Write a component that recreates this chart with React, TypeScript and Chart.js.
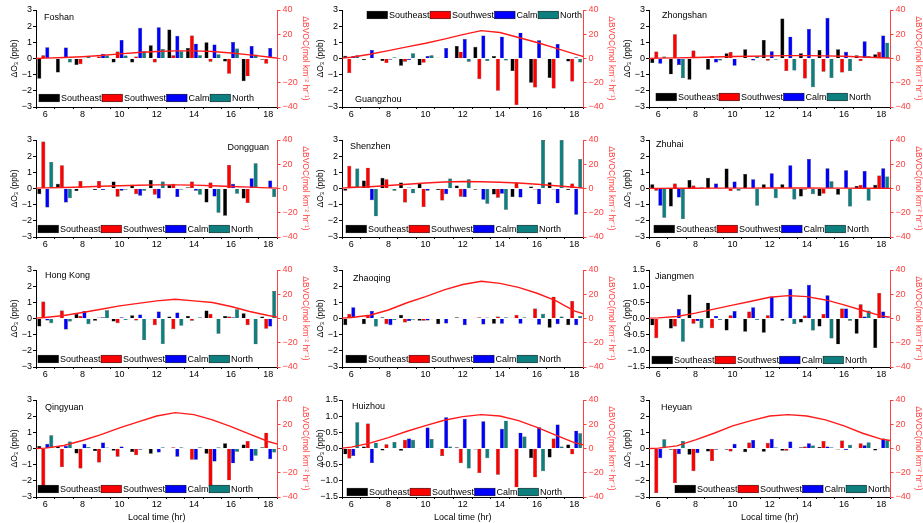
import React, { useEffect, useRef } from "react";
import { Chart, registerables } from "chart.js";

Chart.register(...registerables);

// ---------- shared axis values ----------
const hours = [6, 7, 8, 9, 10, 11, 12, 13, 14, 15, 16, 17, 18];
const bvocHours = [5.5, 6, 7, 8, 9, 10, 11, 12, 13, 14, 15, 16, 17, 18, 18.5];
const seriesNames = ["Southeast", "Southwest", "Calm", "North"];
const xTickLabels = ["6", "8", "10", "12", "14", "16", "18"];

// ---------- Foshan ----------
const foshanSE = [-1.25, -0.86, -0.4, 0.03, -0.25, -0.25, 0.82, 1.8, 0.65, 1.0, -0.18, -1.4, -0.08];
const foshanSW = [0.2, 0.0, -0.35, 0.12, 0.43, 0.12, -0.25, 0.2, 1.42, -0.2, -0.95, -1.1, -0.33];
const foshanCalm = [0.7, 0.68, 0.02, 0.28, 1.15, 1.9, 1.93, 1.4, 0.92, 0.87, 1.02, 0.78, 0.65];
const foshanNorth = [0.04, -0.25, 0.15, 0.18, 0.18, 0.45, 0.58, 0.45, 0.2, 0.27, 0.62, 0.25, 0.02];
const foshanBVOC = [0, 0.3, 0.8, 1.5, 2.5, 3.8, 5, 5.8, 6.3, 6.3, 5.8, 4.5, 3, 1.2, 0.3];

// ---------- Guangzhou ----------
const guangzhouSE = [0.17, -0.1, -0.15, -0.45, -0.42, 0.05, 0.78, 0.72, 0.15, -0.78, -1.5, -1.2, -0.18];
const guangzhouSW = [-0.9, -0.03, -0.28, -0.2, -0.27, -0.03, 0.42, -1.28, -2.0, -2.88, -1.8, -1.85, -1.42];
const guangzhouCalm = [0.15, 0.53, -0.08, -0.1, 0.15, 0.65, 1.2, 1.42, 1.35, 1.6, 1.13, 0.9, 0.08];
const guangzhouNorth = [0.2, 0.05, 0.08, 0.33, 0.2, -0.03, -0.2, -0.15, -0.13, -0.02, 0.02, 0.0, -0.25];
const guangzhouBVOC = [0.3, 1, 3.5, 6.5, 9.6, 12.6, 16, 19.7, 23, 21.4, 17.3, 13.2, 8.5, 3.8, 1.6];

// ---------- Zhongshan ----------
const zhongshanSE = [-0.28, -0.98, -1.31, -0.7, 0.33, 0.57, 1.15, 2.48, 0.33, 0.53, 0.57, 0.2, 0.27];
const zhongshanSW = [0.43, 1.5, 0.49, 0.16, 0.4, -0.04, -0.14, -0.78, -1.23, -0.82, -0.86, -0.16, 0.41];
const zhongshanCalm = [-0.33, -0.4, 0.04, -0.25, -0.45, -0.12, 0.45, 1.35, 1.83, 2.52, 0.41, 1.07, 1.42];
const zhongshanNorth = [0.12, -1.2, 0.03, -0.12, 0.02, 0.16, -0.08, -0.74, -1.77, -1.21, -0.78, 0.16, 0.98];
const zhongshanBVOC = [0, 0.3, 0.5, 0.8, 1.2, 1.6, 1.9, 2.2, 2.4, 2.4, 2.2, 1.8, 1.2, 0.6, 0.3];

// ---------- Dongguan ----------
const dongguanSE = [-0.35, 0.29, -0.16, -0.1, 0.43, 0.23, 0.53, 0.23, 0.08, -0.86, -1.68, -0.62, 0.02];
const dongguanSW = [2.9, 1.44, 0.47, 0.47, -0.51, -0.35, -0.39, 0.29, 0.43, 0.37, 1.46, -0.9, 0.03];
const dongguanCalm = [-1.17, -0.86, -0.03, -0.1, -0.14, -0.45, -0.62, -0.53, -0.14, -0.49, 0.29, 0.64, 0.49];
const dongguanNorth = [1.64, -0.6, -0.03, -0.03, -0.08, -0.14, 0.43, -0.08, -0.39, -1.5, -0.33, 1.56, -0.53];
const dongguanBVOC = [0.3, 0.5, 0.8, 1.2, 1.8, 2.3, 2.7, 3, 3, 2.8, 2.3, 1.7, 1.1, 0.5, 0.3];

// ---------- Shenzhen ----------
const shenzhenSE = [-0.14, 0.49, 0.66, 0.37, 0.33, -0.1, 0.18, -0.08, -0.37, -0.53, 0.12, 0.39, -0.1];
const shenzhenSW = [1.4, 1.29, 0.57, -0.86, -1.15, -0.74, -0.51, -0.04, -0.57, 0.37, -0.06, -0.06, 0.31];
const shenzhenCalm = [0.12, -0.72, 0.02, 0.06, -0.14, -0.35, -0.53, -0.7, -0.33, -0.55, -0.98, -0.92, -1.62];
const shenzhenNorth = [1.23, -1.72, -0.14, -0.3, 0.04, 0.62, 0.57, -0.94, -1.31, 0.0, 3.0, 3.0, 1.83];
const shenzhenBVOC = [0.3, 0.8, 1.5, 2.5, 3.5, 4.5, 5.3, 5.8, 5.6, 5.2, 4.5, 3.5, 2.3, 1.0, 0.3];

// ---------- Zhuhai ----------
const zhuhaiSE = [0.27, -1.11, 0.53, 0.66, 1.23, 0.9, 0.27, 0.27, -0.49, -0.47, -0.39, 0.16, 0.23];
const zhuhaiSW = [-0.14, 0.31, 0.18, 0.0, -0.16, -0.02, 0.0, 0.02, -0.08, -0.33, 0.0, 0.23, 0.8];
const zhuhaiCalm = [-1.07, -0.55, 0.04, 0.31, 0.43, 0.57, 0.94, 1.44, 1.83, 1.25, 1.13, 1.09, 1.25];
const zhuhaiNorth = [-1.81, -1.89, 0.08, -0.04, -0.14, -1.07, -0.6, -0.68, -0.35, 0.45, -1.11, -0.76, 0.74];
const zhuhaiBVOC = [0.1, 0.1, 0.2, 0.2, 0.3, 0.3, 0.3, 0.4, 0.4, 0.4, 0.3, 0.3, 0.2, 0.2, 0.1];

// ---------- Hong Kong ----------
const hongkongSE = [-0.49, -0.03, 0.29, -0.14, -0.18, 0.2, -0.04, 0.12, 0.16, 0.49, 0.16, 0.33, 0.12];
const hongkongSW = [1.05, 0.49, 0.16, 0.06, -0.29, -0.12, -0.41, -0.66, -0.14, 0.29, 0.12, -0.41, -0.64];
const hongkongCalm = [-0.12, -0.68, 0.47, 0.08, 0.08, 0.25, 0.43, 0.37, 0.03, 0.04, 0.08, 0.0, -0.49];
const hongkongNorth = [-0.29, -0.18, -0.35, 0.51, -0.1, -1.33, -1.58, -0.45, 0.08, -0.94, 0.57, -1.6, 1.7];
const hongkongBVOC = [0.3, 0.8, 2.5, 4.9, 7.6, 10.4, 12.5, 14.5, 15.9, 14.5, 13.2, 9.9, 5.8, 2.5, 1.1];

// ---------- Zhaoqing ----------
const zhaoqingSE = [-0.41, -0.35, 0.08, 0.23, -0.14, -0.35, 0.08, 0.04, -0.33, 0.04, -0.04, -0.57, -0.41];
const zhaoqingSW = [0.29, 0.2, -0.35, -0.25, -0.14, 0.0, 0.04, 0.08, 0.12, 0.23, 0.62, 1.35, 1.09];
const zhaoqingCalm = [0.7, 0.47, -0.41, -0.16, -0.12, -0.31, -0.41, -0.37, -0.33, -0.33, -0.39, -0.35, -0.41];
const zhaoqingNorth = [0.05, -0.49, -0.1, -0.08, -0.04, 0.0, 0.0, 0.06, 0.08, 0.08, 0.29, 0.12, 0.16];
const zhaoqingBVOC = [0.3, 0.8, 2.7, 7, 13, 18, 23.6, 28, 30.7, 29, 25.7, 20.8, 14.8, 6.3, 3.8];

// ---------- Jiangmen ----------
const jiangmenSE = [-0.21, -0.31, 0.74, 0.49, -0.37, -0.41, -0.44, -0.07, -0.12, -0.25, -0.8, -0.47, -0.91];
const jiangmenSW = [-0.61, -0.25, -0.16, -0.3, 0.1, 0.22, 0.1, 0.02, 0.09, 0.14, 0.31, 0.44, 0.79];
const jiangmenCalm = [-0.02, 0.29, -0.08, 0.08, 0.23, 0.35, 0.68, 0.91, 1.04, 0.72, 0.31, 0.06, 0.22];
const jiangmenNorth = [0.0, -0.72, -0.3, -0.05, 0.01, -0.05, 0.02, -0.17, -0.37, -0.62, -0.07, 0.25, 0.04];
const jiangmenBVOC = [0.3, 0.5, 1.6, 4.4, 7.7, 11, 14.2, 17.5, 18.9, 18, 15.3, 11.2, 6.6, 2.2, 1.1];

// ---------- Qingyuan ----------
const qingyuanSE = [0.16, 0.16, -0.31, -0.16, -0.14, -0.21, -0.33, 0.0, 0.03, -0.33, 0.33, 0.25, 0.08];
const qingyuanSW = [-2.3, -1.15, -1.23, -0.86, -0.51, -0.41, 0.0, 0.08, -0.7, -2.3, -1.97, 0.47, 0.98];
const qingyuanCalm = [0.29, 0.16, 0.29, 0.37, 0.12, -0.08, -0.25, -0.51, -0.7, -0.8, -0.92, -0.78, -0.66];
const qingyuanNorth = [0.82, 0.43, 0.1, 0.06, 0.03, 0.0, 0.08, 0.08, 0.08, 0.08, -0.2, -0.45, -0.25];
const qingyuanBVOC = [0, 0.3, 2.5, 6.6, 11.5, 17, 21.9, 26.8, 29.6, 27.9, 23.6, 18, 11.8, 5.8, 3.6];

// ---------- Huizhou ----------
const huizhouSE = [-0.18, 0.06, -0.06, -0.07, 0.01, 0.01, 0.04, -0.03, 0.0, 0.0, -0.29, -0.28, 0.12];
const huizhouSW = [-0.31, 0.77, 0.13, 0.27, 0.0, -0.23, -0.45, -0.76, -0.81, -1.2, -0.89, 0.31, -0.18];
const huizhouCalm = [-0.23, -0.45, 0.0, 0.31, 0.65, 0.97, 0.92, 0.84, 0.61, 0.49, 0.66, 0.74, 0.55];
const huizhouNorth = [0.81, 0.18, 0.2, 0.27, 0.29, 0.06, -0.62, -0.3, 0.86, 0.37, -0.7, 0.06, 0.47];
const huizhouBVOC = [0.3, 1.1, 4.4, 9, 14.2, 18.9, 23.3, 26.3, 27.9, 26.8, 23, 17.5, 11, 4.9, 3];

// ---------- Heyuan ----------
const heyuanSE = [-0.04, -0.08, -0.39, -0.18, -0.08, -0.23, -0.2, -0.14, 0.08, 0.1, -0.06, 0.02, -0.12];
const heyuanSW = [-2.75, -2.14, -1.4, -0.78, -0.18, 0.37, 0.35, -0.14, 0.12, 0.47, 0.49, 0.33, 0.02];
const heyuanCalm = [-0.6, -0.35, -0.29, -0.08, 0.29, 0.53, 0.6, 0.43, 0.33, 0.12, -0.1, 0.2, 0.62];
const heyuanNorth = [0.57, 0.47, 0.0, 0.0, 0.03, 0.02, 0.08, 0.02, 0.18, 0.08, 0.23, 0.39, 0.51];
const heyuanBVOC = [0, 0.3, 2.2, 7.1, 12.6, 18.6, 23, 26.8, 27.9, 26.8, 23.6, 18.6, 12.6, 7.7, 6.6];

// ---------- layout / style (kept apart from the data) ----------
const SERIES_COLORS = ["#000000", "#ff0000", "#0000ff", "#0e7f7f"];
const RED_AXIS = "#ff4040";
const LINE_RED = "#ff1a1a";
const FONT = '"Liberation Sans", Arial, Helvetica, sans-serif';
const COL_X = [0, 306, 613];
const ROW_Y = [0, 130, 260, 390];
const CANVAS_W = 310;

type Panel = {
  name: string;
  series: number[][];
  bvoc: number[];
  col: number;
  row: number;
  yMax: number;
  yStep: number;
  legend: [number, number];
  label: [number, number, "left" | "right"];
};

const panels: Panel[] = [
  { name: "Foshan", series: [foshanSE, foshanSW, foshanCalm, foshanNorth], bvoc: foshanBVOC, col: 0, row: 0, yMax: 3, yStep: 1, legend: [3, 88], label: [8, 8, "left"] },
  { name: "Guangzhou", series: [guangzhouSE, guangzhouSW, guangzhouCalm, guangzhouNorth], bvoc: guangzhouBVOC, col: 1, row: 0, yMax: 3, yStep: 1, legend: [25, 5], label: [13, 90, "left"] },
  { name: "Zhongshan", series: [zhongshanSE, zhongshanSW, zhongshanCalm, zhongshanNorth], bvoc: zhongshanBVOC, col: 2, row: 0, yMax: 3, yStep: 1, legend: [7, 87], label: [13, 6, "left"] },
  { name: "Dongguan", series: [dongguanSE, dongguanSW, dongguanCalm, dongguanNorth], bvoc: dongguanBVOC, col: 0, row: 1, yMax: 3, yStep: 1, legend: [2, 89], label: [233, 8, "right"] },
  { name: "Shenzhen", series: [shenzhenSE, shenzhenSW, shenzhenCalm, shenzhenNorth], bvoc: shenzhenBVOC, col: 1, row: 1, yMax: 3, yStep: 1, legend: [4, 89], label: [8, 7, "left"] },
  { name: "Zhuhai", series: [zhuhaiSE, zhuhaiSW, zhuhaiCalm, zhuhaiNorth], bvoc: zhuhaiBVOC, col: 2, row: 1, yMax: 3, yStep: 1, legend: [5, 89], label: [7, 5, "left"] },
  { name: "Hong Kong", series: [hongkongSE, hongkongSW, hongkongCalm, hongkongNorth], bvoc: hongkongBVOC, col: 0, row: 2, yMax: 3, yStep: 1, legend: [2, 89], label: [9, 6, "left"] },
  { name: "Zhaoqing", series: [zhaoqingSE, zhaoqingSW, zhaoqingCalm, zhaoqingNorth], bvoc: zhaoqingBVOC, col: 1, row: 2, yMax: 3, yStep: 1, legend: [4, 89], label: [11, 9, "left"] },
  { name: "Jiangmen", series: [jiangmenSE, jiangmenSW, jiangmenCalm, jiangmenNorth], bvoc: jiangmenBVOC, col: 2, row: 2, yMax: 1.5, yStep: 0.5, legend: [3, 90], label: [6, 7, "left"] },
  { name: "Qingyuan", series: [qingyuanSE, qingyuanSW, qingyuanCalm, qingyuanNorth], bvoc: qingyuanBVOC, col: 0, row: 3, yMax: 3, yStep: 1, legend: [2, 89], label: [9, 8, "left"] },
  { name: "Huizhou", series: [huizhouSE, huizhouSW, huizhouCalm, huizhouNorth], bvoc: huizhouBVOC, col: 1, row: 3, yMax: 1.5, yStep: 0.5, legend: [5, 92], label: [10, 7, "left"] },
  { name: "Heyuan", series: [heyuanSE, heyuanSW, heyuanCalm, heyuanNorth], bvoc: heyuanBVOC, col: 2, row: 3, yMax: 3, yStep: 1, legend: [26, 89], label: [12, 8, "left"] },
];

const minus = (s: string) => s.replace("-", "\u2212");

function PanelChart({ p }: { p: Panel }) {
  const ref = useRef<HTMLCanvasElement | null>(null);
  const bottomRow = p.row === 3;
  const height = bottomRow ? 133 : 130;

  useEffect(() => {
    if (!ref.current) return;
    const font = { family: FONT, size: 9 };
    const titleFont = { family: FONT, size: 8.5 };

    const decor = {
      id: "decor",
      afterDraw(chart: any) {
        const { ctx, chartArea } = chart;
        ctx.save();
        ctx.font = `9px ${FONT}`;
        ctx.textBaseline = "middle";
        ctx.fillStyle = "#000";
        // station label
        ctx.textAlign = p.label[2];
        ctx.fillText(p.name, chartArea.left + p.label[0], chartArea.top + p.label[1]);
        // legend
        ctx.textAlign = "left";
        let x = chartArea.left + p.legend[0];
        const cy = chartArea.top + p.legend[1];
        seriesNames.forEach((n, i) => {
          ctx.fillStyle = SERIES_COLORS[i];
          ctx.fillRect(x, cy - 3.8, 20.5, 7.6);
          ctx.lineWidth = 0.5;
          ctx.strokeStyle = "#000";
          ctx.strokeRect(x, cy - 3.8, 20.5, 7.6);
          ctx.fillStyle = "#000";
          ctx.fillText(n, x + 22, cy + 0.5);
          x += 22.5 + ctx.measureText(n).width;
        });
        ctx.restore();
      },
    };

    const datasets: any[] = [
      {
        type: "line",
        label: "BVOC",
        data: bvocHours.map((h, i) => ({ x: h, y: p.bvoc[i] })),
        borderColor: LINE_RED,
        borderWidth: 1.4,
        pointRadius: 0,
        tension: 0,
        yAxisID: "y2",
        xAxisID: "x",
      },
      ...seriesNames.map((n, i) => ({
        type: "bar",
        label: n,
        data: hours.map((h, j) => ({ x: h, y: p.series[i][j] })),
        backgroundColor: SERIES_COLORS[i],
        borderColor: "#111",
        borderWidth: 0.4,
        categoryPercentage: 0.86,
        barPercentage: 1,
        yAxisID: "y",
        xAxisID: "x",
      })),
    ];

    const chart = new Chart(ref.current, {
      type: "bar",
      data: { datasets },
      plugins: [decor],
      options: {
        animation: false,
        responsive: false,
        maintainAspectRatio: false,
        events: [],
        layout: { padding: { top: 10, left: 0, right: 0, bottom: 0 } },
        plugins: { legend: { display: false }, tooltip: { enabled: false } },
        scales: {
          x: {
            type: "linear",
            min: 5.5,
            max: 18.5,
            offset: false,
            afterBuildTicks: (s: any) => {
              s.ticks = hours.map((v) => ({ value: v }));
            },
            ticks: {
              autoSkip: false,
              maxRotation: 0,
              padding: 0,
              color: "#000",
              font,
              callback: (v: any) => (xTickLabels.includes(String(v)) ? String(v) : ""),
            },
            grid: { display: true, drawOnChartArea: false, drawTicks: true, tickLength: 2, color: "#000" },
            border: { display: true, color: "#000", width: 1 },
            title: {
              display: bottomRow,
              text: "Local time (hr)",
              color: "#000",
              font,
              padding: { top: 0, bottom: 0 },
            },
            afterFit: (s: any) => {
              s.height = bottomRow ? 26 : 23;
            },
          },
          y: {
            position: "left",
            min: -p.yMax,
            max: p.yMax,
            ticks: {
              stepSize: p.yStep,
              padding: 1,
              color: "#000",
              font,
              callback: (v: any) => minus(p.yStep < 1 ? Number(v).toFixed(1) : String(Math.round(Number(v)))),
            },
            grid: { display: true, drawOnChartArea: false, drawTicks: true, tickLength: 3, color: "#000" },
            border: { display: true, color: "#000", width: 1 },
            title: {
              display: true,
              text: "ΔO₃ (ppb)",
              color: "#000",
              font: titleFont,
              padding: { top: 9.5, bottom: 0 },
            },
            afterFit: (s: any) => {
              s.width = 36;
            },
          },
          y2: {
            position: "right",
            min: -40,
            max: 40,
            ticks: {
              stepSize: 10,
              padding: 2,
              color: RED_AXIS,
              font,
              callback: (v: any) => minus(String(Math.round(Number(v)))),
            },
            grid: { display: true, drawOnChartArea: false, drawTicks: true, tickLength: 3, color: RED_AXIS },
            border: { display: true, color: RED_AXIS, width: 1 },
            title: {
              display: true,
              text: "ΔBVOC(mol km⁻² hr⁻¹)",
              color: RED_AXIS,
              font: titleFont,
              padding: { top: 0, bottom: 0 },
            },
            afterFit: (s: any) => {
              s.width = 32.5;
            },
          },
        },
      } as any,
    });
    return () => chart.destroy();
  }, [p, bottomRow]);

  return (
    <canvas
      ref={ref}
      width={CANVAS_W}
      height={height}
      style={{
        position: "absolute",
        left: COL_X[p.col],
        top: ROW_Y[p.row],
        width: CANVAS_W,
        height,
      }}
    />
  );
}

export default function App() {
  return (
    <div
      style={{
        position: "absolute",
        left: 0,
        top: 0,
        width: 923,
        height: 523,
        background: "#fff",
        overflow: "hidden",
      }}
    >
      {panels.map((p) => (
        <PanelChart key={p.name} p={p} />
      ))}
    </div>
  );
}
